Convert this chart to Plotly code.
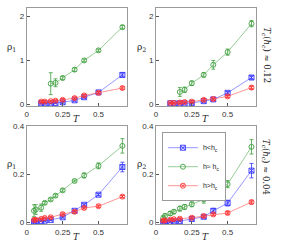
import plotly.graph_objects as go

# ---- data ----
T_top_g = [1/6, 0.2, 0.25, 1/3, 0.4, 0.5, 2/3]
T_top_br = [0.1, 0.125, 1/6, 0.2, 0.25, 1/3, 0.4, 0.5, 2/3]
T_bot_g = [0.05, 0.0625, 0.1, 0.125, 1/6, 0.2, 0.25, 1/3, 0.4, 0.5, 2/3]
T_bot_br = [0.05, 0.0625, 0.1, 0.125, 1/6, 0.25, 1/3, 0.4, 0.5, 2/3]

# top-left rho1 (Tc ~ 0.12)
tl_green = [0.47, 0.49, 0.60, 0.79, 1.00, 1.23, 1.76]
tl_green_e = [0.25, 0.09, 0.04, 0.04, 0.03, 0.03, 0.04]
tl_blue = [0.02, 0.02, 0.02, 0.03, 0.045, 0.09, 0.16, 0.27, 0.67]
tl_blue_e = [0.01, 0.01, 0.01, 0.01, 0.01, 0.02, 0.02, 0.02, 0.05]
tl_red = [0.06, 0.06, 0.07, 0.08, 0.10, 0.14, 0.20, 0.26, 0.37]
tl_red_e = [0.02, 0.02, 0.02, 0.02, 0.03, 0.03, 0.03, 0.03, 0.03]

# top-right rho2 (Tc ~ 0.12)
tr_green = [0.28, 0.33, 0.48, 0.67, 0.90, 1.19, 1.84]
tr_green_e = [0.10, 0.06, 0.05, 0.05, 0.10, 0.07, 0.07]
tr_blue = [0.02, 0.02, 0.02, 0.02, 0.03, 0.07, 0.11, 0.26, 0.61]
tr_blue_e = [0.01, 0.01, 0.01, 0.01, 0.01, 0.02, 0.02, 0.03, 0.04]
tr_red = [0.03, 0.03, 0.04, 0.05, 0.06, 0.10, 0.12, 0.18, 0.38]
tr_red_e = [0.02, 0.02, 0.02, 0.02, 0.02, 0.03, 0.03, 0.03, 0.04]

# bottom-left rho1 (Tc ~ 0.04)
bl_green = [0.049, 0.054, 0.062, 0.082, 0.096, 0.112, 0.134, 0.173, 0.196, 0.236, 0.319]
bl_green_e = [0.025, 0.02, 0.015, 0.006, 0.006, 0.006, 0.006, 0.004, 0.01, 0.012, 0.03]
bl_blue = [0.004, 0.005, 0.007, 0.008, 0.011, 0.022, 0.049, 0.074, 0.116, 0.231]
bl_blue_e = [0.002, 0.002, 0.002, 0.002, 0.002, 0.003, 0.003, 0.004, 0.005, 0.02]
bl_red = [0.011, 0.012, 0.015, 0.019, 0.022, 0.035, 0.045, 0.061, 0.068, 0.108]
bl_red_e = [0.004, 0.004, 0.004, 0.004, 0.004, 0.005, 0.005, 0.005, 0.005, 0.005]

# bottom-right rho2 (Tc ~ 0.04)
br_green = [0.018, 0.027, 0.038, 0.045, 0.058, 0.065, 0.076, 0.096, 0.122, 0.160, 0.315]
br_green_e = [0.01, 0.01, 0.008, 0.008, 0.01, 0.01, 0.01, 0.015, 0.018, 0.015, 0.03]
br_blue = [0.002, 0.003, 0.004, 0.005, 0.006, 0.015, 0.024, 0.049, 0.081, 0.216]
br_blue_e = [0.002, 0.002, 0.002, 0.002, 0.002, 0.003, 0.004, 0.01, 0.012, 0.03]
br_red = [0.008, 0.009, 0.012, 0.014, 0.016, 0.020, 0.027, 0.034, 0.040, 0.085]
br_red_e = [0.004, 0.004, 0.004, 0.004, 0.004, 0.004, 0.005, 0.005, 0.006, 0.008]

legend_names = ["h<h<sub>c</sub>", "h≈ h<sub>c</sub>", "h>h<sub>c</sub>"]
x_ticks = [0, 0.25, 0.5]
x_tick_labels = ["0", "0.25", "0.5"]
top_y_ticks = [0, 1, 2]
bot_y_ticks = [0, 0.2, 0.4]

# ---- styles ----
W, H = 299, 244
line_col = {"b": "rgba(100,100,255,0.85)", "g": "rgba(100,180,100,0.85)", "r": "rgba(255,100,100,0.85)"}
mk_col = {"b": "#3535ff", "g": "#3f9f3f", "r": "#ff3535"}
symbols = {"b": "square-x-open", "g": "circle-open", "r": "circle-x-open"}

fig = go.Figure()

panels = [
    ("x", "y", T_top_br, tl_blue, tl_blue_e, T_top_g, tl_green, tl_green_e, T_top_br, tl_red, tl_red_e),
    ("x2", "y2", T_top_br, tr_blue, tr_blue_e, T_top_g, tr_green, tr_green_e, T_top_br, tr_red, tr_red_e),
    ("x3", "y3", T_bot_br, bl_blue, bl_blue_e, T_bot_g, bl_green, bl_green_e, T_bot_br, bl_red, bl_red_e),
    ("x4", "y4", T_bot_br, br_blue, br_blue_e, T_bot_g, br_green, br_green_e, T_bot_br, br_red, br_red_e),
]

for pi, (xa, ya, xb, yb, eb, xg, yg, eg, xr, yr, er) in enumerate(panels):
    for key, xs, ys, es, name in (("b", xb, yb, eb, legend_names[0]),
                                 ("g", xg, yg, eg, legend_names[1]),
                                 ("r", xr, yr, er, legend_names[2])):
        fig.add_trace(go.Scatter(
            x=xs, y=ys, xaxis=xa, yaxis=ya, mode="lines+markers", name=name,
            showlegend=(pi == 3),
            line=dict(color=line_col[key], width=0.8),
            marker=dict(symbol=symbols[key], size=5, color=mk_col[key], line=dict(width=0.9, color=mk_col[key])),
            error_y=dict(type="data", array=es, visible=True, color=mk_col[key], thickness=0.8, width=2),
        ))

def px_x(a, b):
    return [a / W, b / W]

def px_y(top, bot):
    return [1 - bot / H, 1 - top / H]

xdoms = [px_x(25, 126), px_x(155, 256)]
ydoms = [px_y(4, 105), px_y(126, 227)]

axis_common = dict(showline=True, mirror=True, linecolor="#9a9a9a", linewidth=1,
                   ticks="inside", ticklen=3, tickcolor="#555", showgrid=False, zeroline=False,
                   tickfont=dict(family="Liberation Sans", size=8, color="#333"))

layout = {}
for i in range(4):
    col = i % 2
    row = i // 2
    sx = "" if i == 0 else str(i + 1)
    layout["xaxis" + sx] = dict(domain=xdoms[col], range=[0, 0.7], anchor="y" + sx,
                                tickvals=x_ticks, ticktext=x_tick_labels, **axis_common)
    if row == 0:
        layout["yaxis" + sx] = dict(domain=ydoms[row], range=[-0.04, 2.2], anchor="x" + sx,
                                    tickvals=top_y_ticks, **axis_common)
    else:
        layout["yaxis" + sx] = dict(domain=ydoms[row], range=[-0.008, 0.4], anchor="x" + sx,
                                    tickvals=bot_y_ticks, **axis_common)

fig.update_layout(**layout)

ann = []
rho_labels = ["ρ<sub>1</sub>", "ρ<sub>2</sub>", "ρ<sub>1</sub>", "ρ<sub>2</sub>"]
for i in range(4):
    col = i % 2
    row = i // 2
    x0 = [10, 140][col]
    y0 = [45, 165][row]
    ann.append(dict(x=x0 / W, y=1 - y0 / H, xref="paper", yref="paper", text=rho_labels[i],
                    xanchor="center", yanchor="middle",
                    showarrow=False, font=dict(family="DejaVu Serif", size=9, color="#222")))
    tx = [75, 205][col]
    ty = [118, 240][row]
    ann.append(dict(x=tx / W, y=1 - ty / H, xref="paper", yref="paper", text="<i>T</i>",
                    xanchor="center", yanchor="middle",
                    showarrow=False, font=dict(family="DejaVu Serif", size=9, color="#222")))

for ty, txt in ((53, "<i>T<sub>c</sub></i>(<i>h<sub>c</sub></i>) ≈ 0.12"),
                (168, "<i>T<sub>c</sub></i>(<i>h<sub>c</sub></i>) ≈ 0.04")):
    ann.append(dict(x=266 / W, y=1 - ty / H, xref="paper", yref="paper", text=txt, textangle=90,
                    xanchor="center", yanchor="middle",
                    showarrow=False, font=dict(family="DejaVu Serif", size=8.5, color="#222")))

fig.update_layout(
    width=W, height=H, margin=dict(l=0, r=0, t=0, b=0),
    paper_bgcolor="white", plot_bgcolor="white",
    annotations=ann,
    legend=dict(x=161 / W, y=1 - 132 / H, xanchor="left", yanchor="top",
                bgcolor="white", bordercolor="#9a9a9a", borderwidth=1,
                font=dict(family="Liberation Sans", size=7, color="#222"),
                tracegroupgap=0, itemwidth=30),
)

fig.write_html("out.html", config={"displayModeBar": False},
               post_script="document.body.style.margin='0';")
